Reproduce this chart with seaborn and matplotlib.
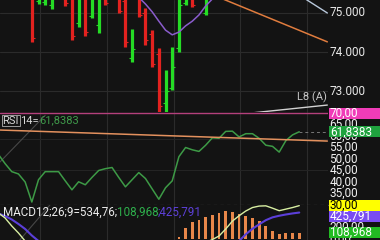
import matplotlib
matplotlib.use("Agg")
import matplotlib.pyplot as plt
import seaborn as sns
from matplotlib.patches import Rectangle

# ---------------- data ----------------
# visible OHLC bars (candle index, open, high, low, close)
bar_idx   = [4, 5, 6, 7, 9, 10, 11, 12, 13, 14, 15, 17, 18, 19, 20, 21, 22, 23, 24, 25, 26, 27, 28, 30]
bar_open  = [75.50, 75.30, 75.28, 75.20, 75.60, 75.50, 74.74, 75.40, 74.92, 74.69, 75.60, 75.60,
             75.30, 73.85, 75.40, 75.00, 74.45, 73.95, 72.69, 73.08, 74.10, 75.25, 75.60, 75.00]
bar_high  = [75.60, 75.70, 75.70, 75.70, 75.70, 75.60, 75.60, 75.50, 75.60, 75.60, 75.70, 75.70,
             75.45, 74.59, 75.50, 75.13, 74.56, 74.10, 73.54, 74.13, 75.40, 75.60, 75.70, 75.60]
bar_low   = [74.26, 75.23, 75.20, 75.10, 75.18, 74.31, 74.64, 74.41, 74.87, 74.49, 75.20, 75.00,
             74.13, 73.74, 74.90, 74.18, 73.62, 72.42, 72.42, 73.03, 74.00, 75.20, 75.15, 74.95]
bar_close = [74.35, 75.60, 75.55, 75.50, 75.25, 74.40, 75.40, 74.50, 75.45, 75.40, 75.25, 75.05,
             74.25, 74.08, 74.95, 74.30, 73.70, 72.62, 73.00, 73.62, 75.20, 75.50, 75.20, 75.40]

ma_idx = [19, 20, 21, 22, 23, 24, 25, 26, 27, 28, 29, 30, 31, 32]
ma_val = [75.60, 75.40, 75.23, 75.03, 74.79, 74.56, 74.44, 74.51, 74.67, 74.79, 74.95, 75.18, 75.36, 75.55]

rsi_idx = list(range(-1, 45))
rsi_val = [52.0, 48.0, 44.5, 43.5, 40.0, 31.3, 41.0, 44.5, 44.5, 44.5, 40.5, 36.6, 40.1, 38.8,
           42.0, 45.0, 45.8, 46.3, 42.0, 37.9, 41.0, 44.1, 41.5, 37.0, 32.5, 37.5, 40.5, 51.0,
           55.0, 54.0, 53.3, 56.0, 59.2, 59.0, 62.0, 62.1, 59.6, 61.0, 61.0, 59.0, 56.0, 55.5,
           53.0, 58.0, 60.5, 61.8383]

macd_idx = list(range(-1, 45))
macd_val = [419, 340, 213, 103, -24, -140, -200, -240, -265, -280, -300, -330, -340, -355,
            -350, -345, -340, -335, -345, -370, -380, -375, -385, -410, -450, -480, -480, -434,
            -282, -167, -115, -48, -1, 55, 166, 290, 375, 450, 505, 528, 532, 495, 455, 480, 505,
            534.76]
signal_val = [411, 371, 316, 245, 166, 63, -24, -90, -140, -180, -215, -245, -270, -295,
              -315, -330, -340, -345, -350, -355, -362, -368, -375, -385, -400, -420, -440, -470,
              -460, -440, -420, -400, -385, -368, -281, -149, -24, 82, 169, 239, 305, 350, 375,
              395, 412, 425.791]
hist_idx = list(range(26, 45))
hist_val = [36, 178, 273, 305, 352, 384, 423, 447, 439, 399, 368, 336, 289, 210, 131, 84, 100, 100, 108.968]

price_ticks = [75.0, 74.0, 73.0]
rsi_ticks = [65, 60, 55, 50, 45, 40, 35]
macd_ticks = [200, 0]
vgrid_idx = [5.2, 15.2, 25.2, 35.2, 45.2]
price_grid = [75.0, 74.0, 73.0]
rsi_grid = [58.7, 45.2]

trend_orange_k = [31.0, 48.2]
trend_orange_v = [75.47, 74.26]
trend_light_k = [44.0, 48.2]
trend_light_v = [75.46, 75.0]
trend_l8_k = [37.0, 48.2]
trend_l8_v = [72.44, 72.64]
rsi_trend_k = [-0.8, 48.2]
rsi_trend_v = [62.6, 57.8]
rsi_faint_k = [-0.8, 6.0]
rsi_faint_v = [48.6, 69.0]
macd_faint_k = [2.2, 6.7]
macd_faint_v = [-8, 545]

rsi_last = 61.8383
macd_last, hist_last, signal_last = 534.76, 108.968, 425.791

# ---------------- style ----------------
BG = "#131313"
GRID = "#2b2b2b"
RED = "#e3221f"
GREEN = "#25dc25"
sns.set_theme(style="dark", rc={"axes.facecolor": BG, "figure.facecolor": BG})
plt.rcParams['font.family'] = ['Roboto', 'DejaVu Sans']

W, H = 380, 240
fig = plt.figure(figsize=(3.8, 2.4), dpi=100, facecolor=BG)
PW = 328 / W
ax_p = fig.add_axes([0, 1 - 112 / H, PW, 112 / H])
ax_r = fig.add_axes([0, 35 / H, PW, 93 / H])
ax_m = fig.add_axes([0, 0, PW, 35 / H])

XMIN, XMAX = -0.76, 48.3
for ax in (ax_p, ax_r, ax_m):
    ax.set_facecolor(BG)
    ax.set_xlim(XMIN, XMAX)
    for s in ax.spines.values():
        s.set_visible(False)
    ax.set_xticks([])
    ax.set_yticks([])
    ax.grid(False)
    ax.set_xlabel("")
    ax.set_ylabel("")
    for gx in vgrid_idx:
        ax.axvline(gx, color=GRID, lw=0.8, zorder=0)

ax_p.set_ylim(72.462, 75.333)
ax_r.set_ylim(30.0, 70.435)
ax_m.set_ylim(-8, 545)

# ---- price panel ----
for g in price_grid:
    ax_p.axhline(g, color=GRID, lw=0.8, zorder=0)
cols = [GREEN if c >= o else RED for o, c in zip(bar_open, bar_close)]
ax_p.vlines(bar_idx, bar_low, bar_high, colors=cols, lw=2.3, zorder=3)
ax_p.hlines(bar_open, [i - 0.45 for i in bar_idx], bar_idx, colors=cols, lw=0.8, zorder=3)
ax_p.hlines(bar_close, bar_idx, [i + 0.45 for i in bar_idx], colors=cols, lw=0.8, zorder=3)
sns.lineplot(x=ma_idx, y=ma_val, ax=ax_p, color="#8a5ccc", lw=1.1, sort=False, legend=False, zorder=4)
ax_p.plot(trend_orange_k, trend_orange_v, color="#e07c3e", lw=1.1, zorder=4)
ax_p.plot(trend_light_k, trend_light_v, color="#b9c9dc", lw=1.0, zorder=4)
ax_p.plot(trend_l8_k, trend_l8_v, color="#d2d2d2", lw=1.0, zorder=4, clip_on=False)
ax_p.text(48.2, 72.85, "L8 (A)", color="#c8c8c8", fontsize=8, ha="right", va="center")
for v in price_ticks:
    ax_p.text(1.004, v, f"{v:.3f}", transform=ax_p.get_yaxis_transform(), ha="left", va="center",
              color="#e8e8e8", fontsize=8.5, clip_on=False)

# ---- RSI panel ----
for g in rsi_grid:
    ax_r.axhline(g, color="#242424", lw=0.8, zorder=0)
ax_r.axhline(70, color="#b4407c", lw=1.0, zorder=2)
ax_r.axhline(30, color="#8a8a8a", lw=0.8, ls=(0, (3, 3)), zorder=2, clip_on=False)
ax_r.plot(rsi_faint_k, rsi_faint_v, color="#474747", lw=0.8, zorder=1)
sns.lineplot(x=rsi_idx, y=rsi_val, ax=ax_r, color="#3d9a46", lw=1.1, sort=False, legend=False, zorder=3)
ax_r.plot(rsi_trend_k, rsi_trend_v, color="#e3915e", lw=1.1, zorder=4)
ax_r.hlines(rsi_last, rsi_idx[-1], XMAX, color="#777777", lw=0.7, ls=(0, (3, 3)), zorder=2)
for v in rsi_ticks:
    ax_r.text(1.004, v, f"{v:.2f}".replace(".", ","), transform=ax_r.get_yaxis_transform(),
              ha="left", va="center", color="#f0f0f0", fontsize=8.5, clip_on=False, zorder=3)

# ---- MACD panel ----
ax_m.plot(macd_faint_k, macd_faint_v, color="#474747", lw=0.8, zorder=1)
ax_m.bar(hist_idx, hist_val, width=0.42, color="#e8874a", edgecolor="none", linewidth=0, zorder=2)
sns.lineplot(x=macd_idx, y=signal_val, ax=ax_m, color="#5b3fd9", lw=1.5, sort=False, legend=False, zorder=3)
sns.lineplot(x=macd_idx, y=macd_val, ax=ax_m, color="#d8efa2", lw=1.0, sort=False, legend=False, zorder=4)
for v in macd_ticks:
    ax_m.text(1.004, v, f"{v:.2f}".replace(".", ","), transform=ax_m.get_yaxis_transform(),
              ha="left", va="center", color="#f0f0f0", fontsize=8.5, clip_on=False, zorder=3)

# ---- right-hand value boxes ----
def ypx(ax, v):
    return H - ax.transData.transform((0, v))[1]

BOX_H = 11
boxes = [
    (ypx(ax_r, 70), "70,00", "#f03cb8", "white"),
    (ypx(ax_r, rsi_last), f"{rsi_last:.4f}".replace(".", ","), "#1fa23e", "white"),
    (ypx(ax_r, 30), "30,00", "#ffff00", "black"),
    (ypx(ax_m, signal_last), f"{signal_last:.3f}".replace(".", ","), "#7a4cf2", "white"),
    (ypx(ax_m, hist_last), f"{hist_last:.3f}".replace(".", ","), "#22bb22", "white"),
]
prev_bottom = -1e9
for yc, txt, fc, tc in boxes:
    top = max(yc - BOX_H / 2, prev_bottom)
    prev_bottom = top + BOX_H
    fig.add_artist(Rectangle((328.5 / W, 1 - (top + BOX_H) / H), 51.5 / W, BOX_H / H,
                             transform=fig.transFigure, facecolor=fc, edgecolor="none", zorder=10))
    fig.text(330 / W, 1 - (top + BOX_H / 2) / H, txt, color=tc, fontsize=8.5, ha="left",
             va="center", zorder=11)

# ---- panel titles (multi-coloured) ----
renderer = fig.canvas.get_renderer()

def chain(x_px, y_px, parts, size=8):
    x = x_px
    for i, (txt, col) in enumerate(parts):
        kw = {}
        if i == 0 and txt == "RSI":
            kw["bbox"] = dict(boxstyle="square,pad=0.08", fc="none", ec="#b0b0b0", lw=0.6)
        t = fig.text(x / W, 1 - y_px / H, txt, color=col, fontsize=size, ha="left",
                     va="center", zorder=12, **kw)
        bb = t.get_window_extent(renderer)
        x = bb.x1 + (1.5 if "bbox" in kw else 0)

chain(2.5, 120.5, [("RSI", "#d8d8d8"), ("14=", "#d8d8d8"),
                   (f"{rsi_last:.4f}".replace(".", ","), "#3f9a4a")])
chain(2.5, 212.5, [("MACD12;26;9=" + f"{macd_last:.2f}".replace(".", ",") + ";", "#ececec"),
                   (f"{hist_last:.3f}".replace(".", ","), "#2eb04c"),
                   (";" + f"{signal_last:.3f}".replace(".", ","), "#5d40d8")], size=8.4)

fig.savefig("out.png", dpi=100, facecolor=BG)
